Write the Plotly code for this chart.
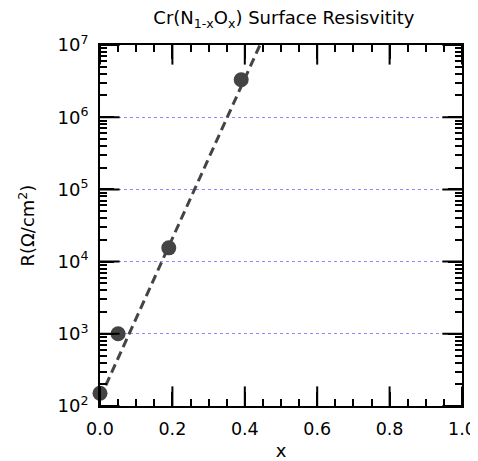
import plotly.graph_objects as go

# Data
x_vals = [0.0, 0.05, 0.19, 0.39]
r_vals = [150, 1000, 15500, 3.3e6]

# Dashed fit line endpoints
fit_x = [0.0, 0.442]
fit_r = [129, 1.0e7]

# Tick values / labels
x_major = [0.0, 0.2, 0.4, 0.6, 0.8, 1.0]
x_major_labels = ["0.0", "0.2", "0.4", "0.6", "0.8", "1.0"]
y_major = [1e2, 1e3, 1e4, 1e5, 1e6, 1e7]
y_major_labels = ["10<sup>2</sup>", "10<sup>3</sup>", "10<sup>4</sup>",
                  "10<sup>5</sup>", "10<sup>6</sup>", "10<sup>7</sup>"]

FONT = "DejaVu Sans"
INK = "#444444"
X_RANGE = [0.0, 1.0]
Y_RANGE = [2, 7]  # log10 decades

fig = go.Figure()
fig.add_trace(go.Scatter(
    x=x_vals, y=r_vals, mode="markers",
    marker=dict(size=15, color=INK),
    cliponaxis=False, showlegend=False, hoverinfo="skip",
))
fig.add_trace(go.Scatter(
    x=fit_x, y=fit_r, mode="lines",
    line=dict(color=INK, width=3, dash="9px,5px"),
    showlegend=False, hoverinfo="skip",
))

# Extra major tick marks as line markers centred on the axis lines
y_lo, y_hi = 10 ** Y_RANGE[0], 10 ** Y_RANGE[1]
x_lo, x_hi = X_RANGE
fig.add_trace(go.Scatter(
    x=x_major + x_major, y=[y_lo] * len(x_major) + [y_hi] * len(x_major),
    mode="markers",
    marker=dict(symbol="line-ns", size=28, color="black",
                line=dict(color="black", width=2)),
    cliponaxis=True, showlegend=False, hoverinfo="skip",
))
fig.add_trace(go.Scatter(
    x=[x_lo] * len(y_major) + [x_hi] * len(y_major), y=y_major + y_major,
    mode="markers",
    marker=dict(symbol="line-ew", size=28, color="black",
                line=dict(color="black", width=2)),
    cliponaxis=True, showlegend=False, hoverinfo="skip",
))

fig.update_layout(
    width=470, height=453,
    margin=dict(l=92, r=16, t=37, b=55),
    paper_bgcolor="white", plot_bgcolor="white",
    font=dict(family=FONT, size=18, color="black"),
    title=dict(text="Cr(N<sub>1-x</sub>O<sub>x</sub>) Surface Resisvitity",
               x=0.587, xanchor="center", y=0.992, yanchor="top",
               font=dict(family=FONT, size=18, color="black")),
)
fig.update_xaxes(
    range=X_RANGE, tickmode="array", tickvals=x_major, ticktext=x_major_labels,
    ticks="inside", ticklen=14, tickwidth=2, tickcolor="black",
    ticklabelstandoff=6,
    showline=True, linecolor="black", linewidth=2, mirror="ticks",
    showgrid=False, zeroline=False, automargin=False,
    minor=dict(dtick=0.05, tick0=0, ticks="inside", ticklen=7, tickwidth=1.5,
               tickcolor="black", showgrid=False),
    title=dict(text="x", standoff=6, font=dict(family=FONT, size=18)),
    tickfont=dict(family=FONT, size=17.5),
)
fig.update_yaxes(
    type="log", range=Y_RANGE, tickmode="array", tickvals=y_major, ticktext=y_major_labels,
    ticks="inside", ticklen=14, tickwidth=2, tickcolor="black",
    ticklabelstandoff=6,
    showline=True, linecolor="black", linewidth=2, mirror="ticks",
    showgrid=True, gridcolor="#8c8cff", griddash="dot", gridwidth=1,
    zeroline=False, automargin=False,
    minor=dict(dtick="D1", ticks="inside", ticklen=7, tickwidth=1.5,
               tickcolor="black", showgrid=False),
    title=dict(text="R(Ω/cm<sup>2</sup>)", standoff=18, font=dict(family=FONT, size=18)),
    tickfont=dict(family=FONT, size=18),
)

fig.write_html("out.html")
